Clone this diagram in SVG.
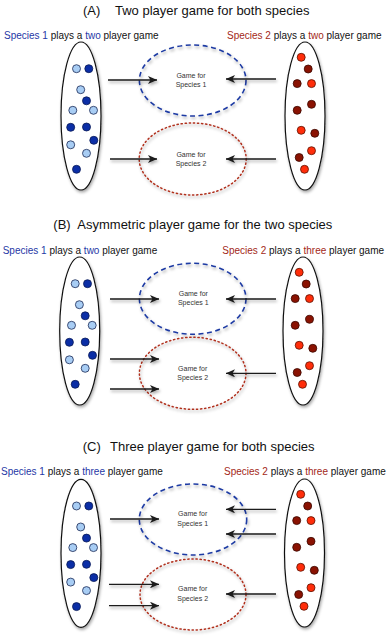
<svg xmlns="http://www.w3.org/2000/svg" xmlns:xlink="http://www.w3.org/1999/xlink" width="386" height="639" viewBox="0 0 386 639">
<defs>
<style>
text{font-family:"Liberation Sans",Arial,sans-serif;fill:#111}
.title{font-size:13px}
.sub{font-size:10px}
.blue{fill:#2638a6}
.red{fill:#a32818}
.gt{font-size:7px;fill:#333;text-anchor:middle}
.pop{fill:#fff;stroke:#111;stroke-width:1.2}
.g1{fill:none;stroke:#1f3ba3;stroke-width:1.6;stroke-dasharray:5 3.5}
.g2{fill:none;stroke:#b0301f;stroke-width:1.5;stroke-dasharray:1.3 2.8;stroke-linecap:round}
.lb{fill:#a8cdf4;stroke:#1b2a55;stroke-width:0.8}
.db{fill:#0b2ea6;stroke:#0a1a55;stroke-width:0.8}
.br{fill:#ff2d0a;stroke:#5a1000;stroke-width:0.8}
.dr{fill:#8a1202;stroke:#3a0800;stroke-width:0.8}
.arr{stroke:#1a1a1a;stroke-width:1.3;fill:none;marker-end:url(#ah)}
</style>
<filter id="sh" x="-30%" y="-30%" width="160%" height="160%">
<feDropShadow dx="1" dy="2" stdDeviation="1.5" flood-color="#000" flood-opacity="0.35"/>
</filter>
<marker id="ah" markerUnits="userSpaceOnUse" markerWidth="10" markerHeight="8" refX="9" refY="4" orient="auto">
<path d="M0,0 L9,4 L0,8 L2.5,4 z" fill="#1a1a1a"/>
</marker>
<g id="bluePop">
<ellipse class="pop" cx="0" cy="0" rx="20" ry="74" filter="url(#sh)"/>
<circle class="lb" cx="-4.5" cy="-47.3" r="4"/>
<circle class="db" cx="7.8" cy="-47.3" r="4"/>
<circle class="lb" cx="-0.3" cy="-26.3" r="4"/>
<circle class="db" cx="5.5" cy="-15.2" r="4"/>
<circle class="lb" cx="-8.2" cy="-5.7" r="4"/>
<circle class="lb" cx="12.5" cy="-5.7" r="4"/>
<circle class="db" cx="-10.3" cy="11.3" r="4"/>
<circle class="db" cx="5.5" cy="11" r="4"/>
<circle class="db" cx="12.8" cy="24.3" r="4"/>
<circle class="lb" cx="-10.3" cy="28.8" r="4"/>
<circle class="lb" cx="5.5" cy="37.3" r="4"/>
<circle class="db" cx="-4.5" cy="53.3" r="4"/>
</g>
<g id="redPop">
<ellipse class="pop" cx="0" cy="0" rx="20" ry="74" filter="url(#sh)"/>
<circle class="br" cx="-3.8" cy="-58.7" r="4"/>
<circle class="dr" cx="3.2" cy="-47" r="4"/>
<circle class="dr" cx="-7.8" cy="-32.4" r="4"/>
<circle class="br" cx="6.5" cy="-32.4" r="4"/>
<circle class="dr" cx="6.5" cy="-11.7" r="4"/>
<circle class="dr" cx="-7.8" cy="-5.7" r="4"/>
<circle class="br" cx="-3.8" cy="14.3" r="4"/>
<circle class="dr" cx="9.8" cy="17.3" r="4"/>
<circle class="br" cx="6.5" cy="34.7" r="4"/>
<circle class="dr" cx="-5.8" cy="41.5" r="4"/>
<circle class="br" cx="-0.5" cy="53.3" r="4"/>
</g>
</defs>

<!-- Panel A -->
<g id="panelA-labels">
<text class="title" y="14.7"><tspan x="83">(A)</tspan><tspan x="115">Two player game for both species</tspan></text>
<text class="sub" x="4" y="38.5"><tspan class="blue">Species 1</tspan> plays a <tspan class="blue">two</tspan> player game</text>
<text class="sub" x="227" y="38.5"><tspan class="red">Species 2</tspan> plays a <tspan class="red">two</tspan> player game</text>
</g>
<g id="A-species1"><use xlink:href="#bluePop" x="81" y="116"/></g>
<g id="A-species2"><use xlink:href="#redPop" x="305" y="116"/></g>
<g id="A-game1">
<ellipse class="g1" cx="192.7" cy="80.5" rx="53.3" ry="35.5" filter="url(#sh)"/>
<text class="gt" x="191" y="77.5">Game for</text>
<text class="gt" x="191" y="87">Species 1</text>
</g>
<g id="A-game2">
<ellipse class="g2" cx="192.7" cy="159" rx="53.5" ry="36" filter="url(#sh)"/>
<text class="gt" x="191" y="156.5">Game for</text>
<text class="gt" x="191" y="166">Species 2</text>
</g>

<!-- Panel B -->
<g id="panelB-labels">
<text class="title" y="228.7"><tspan x="53.3">(B)</tspan><tspan x="77.3">Asymmetric player game for the two species</tspan></text>
<text class="sub" x="2.7" y="253.5"><tspan class="blue">Species 1</tspan> plays a <tspan class="blue">two</tspan> player game</text>
<text class="sub" x="222.3" y="253.5"><tspan class="red">Species 2</tspan> plays a <tspan class="red">three</tspan> player game</text>
</g>
<g id="B-species1"><use xlink:href="#bluePop" x="79.7" y="331"/></g>
<g id="B-species2"><use xlink:href="#redPop" x="303" y="331"/></g>
<g id="B-game1">
<ellipse class="g1" cx="192.7" cy="298.8" rx="53.3" ry="35.5" filter="url(#sh)"/>
<text class="gt" x="193.3" y="295.8">Game for</text>
<text class="gt" x="193.3" y="305.2">Species 1</text>
</g>
<g id="B-game2">
<ellipse class="g2" cx="192.7" cy="373.3" rx="53.3" ry="36" filter="url(#sh)"/>
<text class="gt" x="192.7" y="370.8">Game for</text>
<text class="gt" x="192.7" y="380.2">Species 2</text>
</g>

<!-- Panel C -->
<g id="panelC-labels">
<text class="title" y="450.7"><tspan x="82.7">(C)</tspan><tspan x="110">Three player game for both species</tspan></text>
<text class="sub" x="1" y="475"><tspan class="blue">Species 1</tspan> plays a <tspan class="blue">three</tspan> player game</text>
<text class="sub" x="224" y="475"><tspan class="red">Species 2</tspan> plays a <tspan class="red">three</tspan> player game</text>
</g>
<g id="C-species1"><use xlink:href="#bluePop" x="81" y="553.3"/></g>
<g id="C-species2"><use xlink:href="#redPop" x="304.5" y="553"/></g>
<g id="C-game1">
<ellipse class="g1" cx="193" cy="519.5" rx="53.7" ry="35.5" filter="url(#sh)"/>
<text class="gt" x="192.7" y="515.8">Game for</text>
<text class="gt" x="192.7" y="525.8">Species 1</text>
</g>
<g id="C-game2">
<ellipse class="g2" cx="193" cy="594.5" rx="53" ry="35.5" filter="url(#sh)"/>
<text class="gt" x="192.7" y="590.8">Game for</text>
<text class="gt" x="192.7" y="600.8">Species 2</text>
</g>

<g id="connectors" filter="url(#sh)">
<line class="arr" x1="108" y1="80" x2="157" y2="80"/>
<line class="arr" x1="110" y1="159" x2="157" y2="159"/>
<line class="arr" x1="276" y1="79" x2="226" y2="79"/>
<line class="arr" x1="276" y1="159" x2="226" y2="159"/>

<line class="arr" x1="110" y1="299" x2="159" y2="299"/>
<line class="arr" x1="110" y1="359" x2="159" y2="359"/>
<line class="arr" x1="110" y1="389" x2="159" y2="389"/>
<line class="arr" x1="276" y1="299" x2="226" y2="299"/>
<line class="arr" x1="276" y1="373.3" x2="226" y2="373.3"/>

<line class="arr" x1="110" y1="519" x2="159" y2="519"/>
<line class="arr" x1="109" y1="584.3" x2="159" y2="584.3"/>
<line class="arr" x1="109" y1="605.7" x2="159" y2="605.7"/>
<line class="arr" x1="276" y1="509.3" x2="226" y2="509.3"/>
<line class="arr" x1="276" y1="534" x2="226" y2="534"/>
<line class="arr" x1="276" y1="594" x2="226" y2="594"/>
</g>
</svg>
